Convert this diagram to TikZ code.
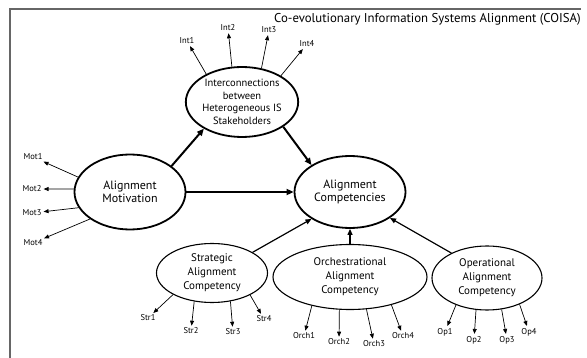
\documentclass[tikz,border=0pt]{standalone}
\usepackage{fontspec}
\setmainfont{PT Sans}
\usepackage{tikz}
\usetikzlibrary{arrows.meta, shapes.geometric}

\begin{document}
\begin{tikzpicture}[x=1pt, y=-1pt,
    mainconstruct/.style={draw, ellipse, line width=1.8pt, inner sep=0pt, align=center, font=\fontsize{12}{13.5}\selectfont},
    subconstruct/.style={draw, ellipse, line width=1.1pt, inner sep=0pt, align=center, font=\fontsize{11}{14}\selectfont},
    indicator/.style={inner sep=1pt, font=\fontsize{8.5}{9}\selectfont},
    strongarrow/.style={-{Triangle[length=7pt, width=6pt]}, line width=2pt},
    midarrow/.style={-{Triangle[length=6pt, width=5pt]}, line width=1.2pt},
    indarrow/.style={-{Triangle[length=5pt, width=4pt]}, line width=0.7pt, shorten >=1pt}]

    \useasboundingbox (0,0) rectangle (587,358);

    % Frame and title
    \draw[gray!80!black, line width=1.2pt] (10,358) -- (10,9) -- (581,9);
    \node (title) [anchor=east, inner sep=0pt, font=\fontsize{12.8}{14}\selectfont] at (581,19) {Co-evolutionary Information Systems Alignment (COISA)};

    % Main constructs
    \node (interconn) [mainconstruct, minimum width=102pt, minimum height=70pt, font=\fontsize{10.5}{12.5}\selectfont] at (242,102) {Interconnections\\ between\\ Heterogeneous IS\\ Stakeholders};
    \node (motivation) [mainconstruct, minimum width=111pt, minimum height=75pt] at (130,192) {Alignment\\ Motivation};
    \node (competencies) [mainconstruct, minimum width=111pt, minimum height=72pt] at (350,192) {Alignment\\ Competencies};

    % Competency dimensions below
    \node (strategic) [subconstruct, minimum width=111pt, minimum height=59pt] at (212,273) {Strategic\\ Alignment\\ Competency};
    \node (orchestral) [subconstruct, minimum width=154pt, minimum height=65pt] at (350,277) {Orchestrational\\ Alignment\\ Competency};
    \node (operational) [subconstruct, minimum width=110pt, minimum height=64pt] at (487,278) {Operational\\ Alignment\\ Competency};

    % Indicators
    \node (int1) [indicator] at (187,41) {Int1};
    \node (int2) [indicator] at (228,28) {Int2};
    \node (int3) [indicator] at (269,30) {Int3};
    \node (int4) [indicator] at (307,44) {Int4};

    \node (mot1) [indicator] at (33,157) {Mot1};
    \node (mot2) [indicator] at (32,189) {Mot2};
    \node (mot3) [indicator] at (32,213) {Mot3};
    \node (mot4) [indicator] at (33,243) {Mot4};

    \node (str1) [indicator] at (148,318) {Str1};
    \node (str2) [indicator] at (191,331) {Str2};
    \node (str3) [indicator] at (233,332) {Str3};
    \node (str4) [indicator] at (264,319) {Str4};

    \node (orch1) [indicator] at (304,336) {Orch1};
    \node (orch2) [indicator] at (339,342) {Orch2};
    \node (orch3) [indicator] at (374,344) {Orch3};
    \node (orch4) [indicator] at (403,336) {Orch4};

    \node (op1) [indicator] at (445,332) {Op1};
    \node (op2) [indicator] at (474,340) {Op2};
    \node (op3) [indicator] at (507,340) {Op3};
    \node (op4) [indicator] at (529,332) {Op4};

    % Paths between constructs
    \draw[strongarrow] (motivation.32) -- (interconn.215);
    \draw[strongarrow] (motivation) -- (competencies);
    \draw[strongarrow] (interconn.329) -- (competencies.145);

    \draw[midarrow] (strategic.27) -- (competencies.215);
    \draw[midarrow] (orchestral) -- (competencies);
    \draw[midarrow] (operational.145) -- (competencies.327);

    % Arrows to indicators
    \draw[indarrow] (interconn.142) -- (int1);
    \draw[indarrow] (interconn.106) -- (int2);
    \draw[indarrow] (interconn.60) -- (int3);
    \draw[indarrow] (interconn.34) -- (int4);

    \draw[indarrow] (motivation.164) -- (mot1);
    \draw[indarrow] (motivation.177) -- (mot2);
    \draw[indarrow] (motivation.197) -- (mot3);
    \draw[indarrow] (motivation.214) -- (mot4);

    \draw[indarrow] (strategic.209) -- (str1);
    \draw[indarrow] (strategic.238) -- (str2);
    \draw[indarrow] (strategic.303) -- (str3);
    \draw[indarrow] (strategic.330) -- (str4);

    \draw[indarrow] (orchestral.217) -- (orch1);
    \draw[indarrow] (orchestral.252) -- (orch2);
    \draw[indarrow] (orchestral.297) -- (orch3);
    \draw[indarrow] (orchestral.326) -- (orch4);

    \draw[indarrow] (operational.221) -- (op1);
    \draw[indarrow] (operational.251) -- (op2);
    \draw[indarrow] (operational.295) -- (op3);
    \draw[indarrow] (operational.321) -- (op4);

\end{tikzpicture}
\end{document}
